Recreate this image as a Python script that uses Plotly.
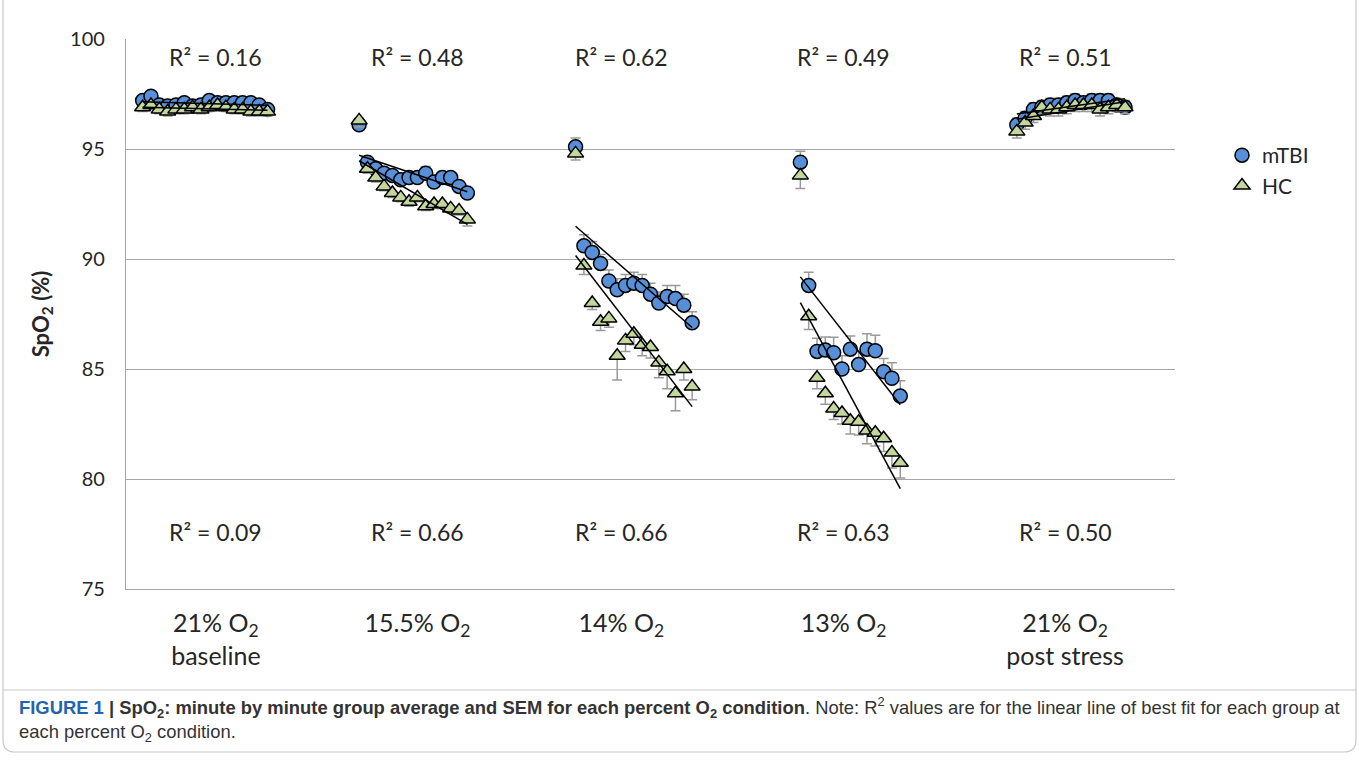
import numpy as np
import plotly.graph_objects as go

# ---------------- data ----------------
conditions = ["21% O<sub>2</sub><br>baseline", "15.5% O<sub>2</sub>", "14% O<sub>2</sub>",
              "13% O<sub>2</sub>", "21% O<sub>2</sub><br>post stress"]
label_minute = [10.8, 35, 59.5, 86.2, 112.8]

minutes_base = list(range(2, 18))
minutes_155 = list(range(28, 42))
minutes_14 = list(range(54, 69))
minutes_13 = list(range(81, 94))
minutes_post = list(range(107, 121))

mtbi_base = [97.2, 97.4, 97.0, 96.95, 97.0, 97.1, 96.95, 97.0, 97.2, 97.1, 97.1, 97.1, 97.1, 97.1, 97.0, 96.8]
hc_base = [96.9, 97.0, 96.8, 96.7, 96.8, 96.8, 96.9, 96.8, 96.9, 97.0, 96.9, 96.8, 96.8, 96.7, 96.7, 96.7]
mtbi_155 = [96.1, 94.4, 94.1, 93.9, 93.8, 93.6, 93.7, 93.7, 93.9, 93.5, 93.7, 93.7, 93.3, 93.0]
hc_155 = [96.3, 94.1, 93.7, 93.3, 93.0, 92.8, 92.6, 92.8, 92.4, 92.5, 92.5, 92.3, 92.2, 91.8]
mtbi_14 = [95.1, 90.6, 90.3, 89.8, 89.0, 88.6, 88.8, 88.9, 88.8, 88.4, 88.0, 88.3, 88.2, 87.9, 87.1]
hc_14 = [94.8, 89.7, 88.0, 87.15, 87.3, 85.6, 86.3, 86.6, 86.1, 86.0, 85.3, 84.9, 83.9, 85.0, 84.2]
mtbi_13 = [94.4, 88.8, 85.8, 85.86, 85.74, 85.0, 85.9, 85.2, 85.9, 85.83, 84.88, 84.58, 83.77]
hc_13 = [93.8, 87.4, 84.6, 83.9, 83.2, 83.0, 82.65, 82.6, 82.2, 82.1, 81.85, 81.2, 80.74]
mtbi_post = [96.1, 96.4, 96.8, 96.9, 97.0, 97.0, 97.1, 97.2, 97.1, 97.2, 97.2, 97.2, 97.0, 96.9]
hc_post = [95.8, 96.2, 96.5, 96.9, 96.8, 96.8, 96.9, 97.0, 97.0, 97.0, 96.8, 96.9, 97.0, 96.9]

sem_mtbi_base = [0.2] * 16
sem_hc_base = [0.2] * 16
sem_mtbi_155 = [0.3, 0.2, 0.2, 0.2, 0.2, 0.2, 0.2, 0.2, 0.3, 0.2, 0.2, 0.2, 0.2, 0.2]
sem_hc_155 = [0.3, 0.2, 0.2, 0.2, 0.2, 0.2, 0.2, 0.2, 0.2, 0.2, 0.2, 0.2, 0.2, 0.3]
sem_mtbi_14 = [0.4, 0.5, 0.5, 0.4, 0.5, 0.5, 0.5, 0.5, 0.5, 0.5, 0.5, 0.5, 0.6, 0.5, 0.5]
sem_hc_14 = [0.3, 0.4, 0.3, 0.4, 0.4, 1.1, 0.5, 0.5, 0.5, 0.5, 0.7, 0.8, 0.8, 0.5, 0.6]
sem_mtbi_13 = [0.5, 0.6, 0.6, 0.6, 0.7, 0.6, 0.6, 0.6, 0.7, 0.7, 0.6, 0.7, 0.7]
sem_hc_13 = [0.6, 0.6, 0.5, 0.5, 0.5, 0.5, 0.6, 0.6, 0.6, 0.6, 0.6, 0.7, 0.7]
sem_mtbi_post = [0.3] * 14
sem_hc_post = [0.3] * 14

r2_mtbi = ["0.16", "0.48", "0.62", "0.49", "0.51"]
r2_hc = ["0.09", "0.66", "0.66", "0.63", "0.50"]

minutes = [minutes_base, minutes_155, minutes_14, minutes_13, minutes_post]
mtbi = [mtbi_base, mtbi_155, mtbi_14, mtbi_13, mtbi_post]
hc = [hc_base, hc_155, hc_14, hc_13, hc_post]
sem_mtbi = [sem_mtbi_base, sem_mtbi_155, sem_mtbi_14, sem_mtbi_13, sem_mtbi_post]
sem_hc = [sem_hc_base, sem_hc_155, sem_hc_14, sem_hc_13, sem_hc_post]

# ---------------- figure ----------------
FONT = "Lato"
TXT = "#262626"
fig = go.Figure()

def flat(lst):
    return [v for sub in lst for v in sub]

all_x = flat(minutes)
n = len(all_x)

fig.add_trace(go.Scatter(
    x=all_x, y=flat(mtbi), mode="markers", name="mTBI",
    marker=dict(symbol="circle", size=14, color="#5790d8", line=dict(color="black", width=1.5)),
    error_y=dict(type="data", symmetric=False, array=flat(sem_mtbi), arrayminus=[0] * n,
                 color="#9a9a9a", thickness=1.5, width=5),
))
fig.add_trace(go.Scatter(
    x=all_x, y=flat(hc), mode="markers", name="HC",
    marker=dict(symbol="triangle-up", size=14, color="#c3d69b", line=dict(color="black", width=1.5)),
    error_y=dict(type="data", symmetric=False, array=[0] * n, arrayminus=flat(sem_hc),
                 color="#9a9a9a", thickness=1.5, width=5),
))

# linear trend lines (least-squares fit per group per condition)
for xs, ys in list(zip(minutes, mtbi)) + list(zip(minutes, hc)):
    xa = np.array(xs, dtype=float)
    ya = np.array(ys, dtype=float)
    slope, icpt = np.polyfit(xa, ya, 1)
    xe = np.array([xa.min(), xa.max()])
    fig.add_trace(go.Scatter(x=xe, y=slope * xe + icpt, mode="lines",
                             line=dict(color="black", width=1.5), showlegend=False,
                             hoverinfo="skip"))

# R^2 annotations
for xm, a, b in zip(label_minute, r2_mtbi, r2_hc):
    fig.add_annotation(x=xm, y=99.2, text=f"R² = {a}", showarrow=False,
                       font=dict(family=FONT, size=23, color=TXT))
    fig.add_annotation(x=xm, y=77.6, text=f"R² = {b}", showarrow=False,
                       font=dict(family=FONT, size=23, color=TXT))

W, H = 1359, 771
L, R, T, B = 126, 184, 39, 182
pw, ph = W - L - R, H - T - B

def px(xp):
    return (xp - L) / pw

def py(yp):
    return (H - B - yp) / ph

# caption
fig.add_annotation(
    xref="paper", yref="paper", x=px(17), y=py(692), xanchor="left", yanchor="top",
    align="left", showarrow=False,
    text=("<b><span style='color:#2165b0'>FIGURE 1</span> | SpO<sub>2</sub>: minute by minute group "
          "average and SEM for each percent O<sub>2</sub> condition</b>. Note: R<sup>2</sup> values are "
          "for the linear line of best fit for each group at<br>each percent O<sub>2</sub> condition."),
    font=dict(family="Liberation Sans", size=18.4, color="#333333"),
)

# frame
border = "#c9c9c9"
r = 12
x0, x1, y0, y1 = px(3), px(1356), py(-2), py(752)
rx = r / pw
ry = r / ph
path = (f"M {x0},{y0} L {x0},{y1 + ry} Q {x0},{y1} {x0 + rx},{y1} "
        f"L {x1 - rx},{y1} Q {x1},{y1} {x1},{y1 + ry} L {x1},{y0}")
fig.add_shape(type="path", xref="paper", yref="paper", path=path,
              line=dict(color=border, width=1.2))
fig.add_shape(type="line", xref="paper", yref="paper", x0=px(3), x1=px(1356), y0=py(690), y1=py(690),
              line=dict(color=border, width=1.2))

fig.update_layout(
    width=W, height=H,
    margin=dict(l=L, r=R, t=T, b=B, autoexpand=False),
    paper_bgcolor="white", plot_bgcolor="white",
    font=dict(family=FONT, color=TXT),
    legend=dict(x=px(1222), y=py(135), xanchor="left", yanchor="top",
                font=dict(family=FONT, size=21, color=TXT), itemwidth=30),
    xaxis=dict(range=[0, 126], showgrid=False, zeroline=False, showline=True,
               linecolor="#a6a6a6", linewidth=1.3,
               tickvals=label_minute, ticktext=conditions, ticks="",
               tickfont=dict(family=FONT, size=25, color=TXT), ticklabelstandoff=12),
    yaxis=dict(range=[75, 100], dtick=5, showgrid=True, gridcolor="#a6a6a6", gridwidth=1.3,
               zeroline=False, showline=True, linecolor="#a6a6a6", linewidth=1.3, ticks="",
               tickfont=dict(family=FONT, size=20, color=TXT), ticklabelstandoff=16,
               title=dict(text="<b>SpO<sub>2</sub> (%)</b>", font=dict(family=FONT, size=22),
                          standoff=14)),
    showlegend=True,
)

fig.write_html("out.html", config={"displayModeBar": False},
               post_script="document.body.style.margin='0';")
